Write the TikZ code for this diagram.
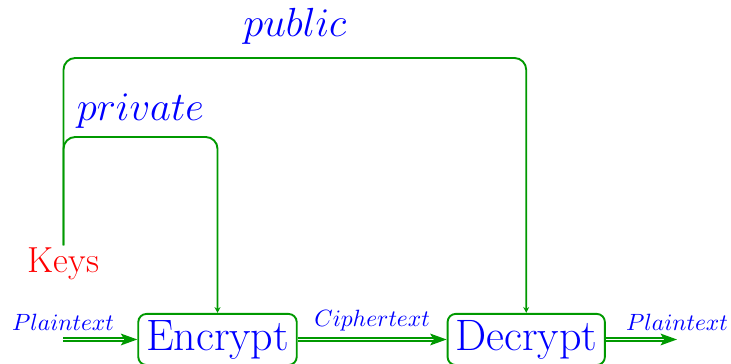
\documentclass[tikz,border=0pt]{standalone}
\usepackage{xcolor}
\usepackage{tikz}
\usetikzlibrary{arrows.meta,positioning}
\definecolor{keygreen}{RGB}{0,153,0}
\tikzset{
  stagebox/.style={
    rectangle, draw=keygreen, line width=0.8pt, rounded corners=3.5pt,
    text=blue, font=\fontsize{18.7pt}{22pt}\selectfont,
    inner xsep=3.3pt, inner ysep=2.6pt
  },
  keysnode/.style={text=red, font=\fontsize{15.4pt}{18pt}\selectfont, inner sep=1pt},
  msglabel/.style={text=blue, font=\normalsize},
  keylabel/.style={text=blue, font=\LARGE},
  dataflow/.style={
    draw=keygreen, double, line width=0.6pt, double distance=0.8pt,
    -{Stealth[length=7pt, width=5pt, inset=1.5pt]}
  },
  keyline/.style={
    draw=keygreen, line width=0.8pt, rounded corners=5pt,
    -{Stealth[length=2.5pt, width=2.5pt]}
  },
}
\begin{document}
\begin{tikzpicture}[x=0.425pt, y=0.425pt]
\useasboundingbox (0,0) rectangle (731,364);

% the two stages
\node[stagebox] (encrypt) at (217.5,24.5) {Encrypt};
\node[stagebox, right=63.3pt of encrypt] (decrypt) {Decrypt};
\node[keysnode, anchor=base] (keys) at (63.5,91) {Keys};

\coordinate (plainin) at (63,24.5);
\coordinate (plainout) at (677,24.5);
\coordinate (privtop) at (0,227);
\coordinate (pubtop) at (0,306);

% message flow
\draw[dataflow] (plainin) -- node[msglabel, above, pos=0] (plainlbl) {$Plaintext$} (encrypt);
\draw[dataflow] (encrypt) -- node[msglabel, above, midway] (cipherlbl) {$Ciphertext$} (decrypt);
\draw[dataflow] (decrypt) -- node[msglabel, above, pos=1] (plainoutlbl) {$Plaintext$} (plainout);

% keys
\draw[keyline] (keys.north) -- (keys.north |- privtop)
  -- node[keylabel, above] (privlbl) {$private$} (encrypt.north |- privtop)
  -- (encrypt.north);
\draw[keyline] (keys.north) -- (keys.north |- pubtop)
  -- node[keylabel, above=2pt] (publbl) {$public$} (decrypt.north |- pubtop)
  -- (decrypt.north);

\end{tikzpicture}
\end{document}
